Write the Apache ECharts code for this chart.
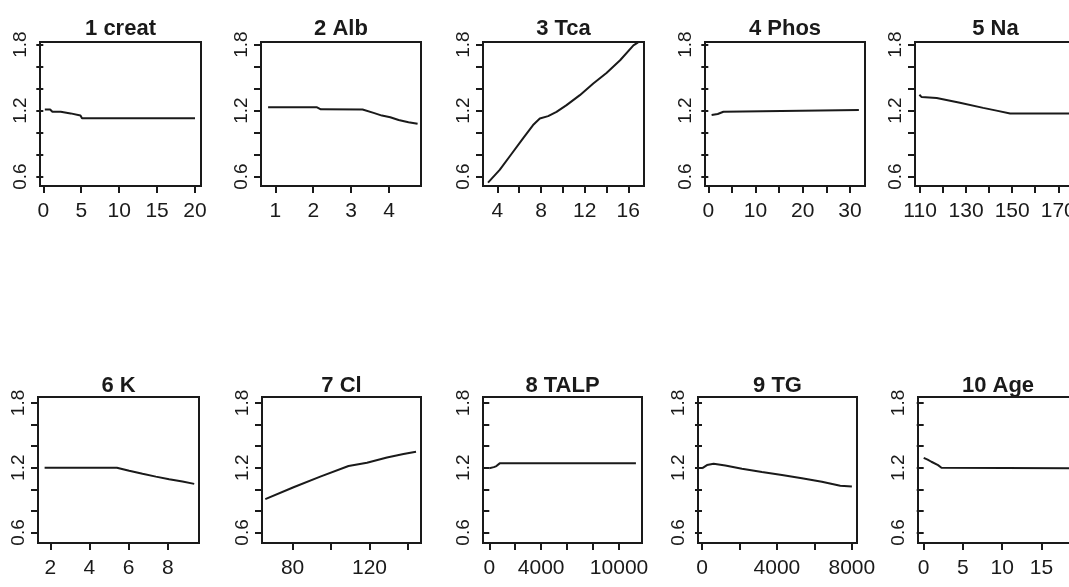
<!DOCTYPE html>
<html><head><meta charset="utf-8">
<script src="https://cdn.jsdelivr.net/npm/echarts@6/dist/echarts.min.js"></script>
<style>html,body{margin:0;padding:0;background:#fff}#c{width:1069px;height:587px}</style>
</head><body><div id="c"></div>
<script>
// ---- data ----
const titles = ['1 creat','2 Alb','3 Tca','4 Phos','5 Na','6 K','7 Cl','8 TALP','9 TG','10 Age'];

const creatX = [0.2, 0.9, 1.2, 2.3, 2.5, 3.6, 3.8, 4.9, 5.1, 20.0];
const creatY = [1.21, 1.21, 1.19, 1.19, 1.175, 1.175, 1.16, 1.155, 1.13, 1.13];
const albX = [0.81, 2.1, 2.2, 3.3, 3.59, 3.81, 4.03, 4.25, 4.51, 4.75];
const albY = [1.23, 1.23, 1.212, 1.21, 1.18, 1.155, 1.14, 1.115, 1.095, 1.08];
const tcaX = [3.14, 4.21, 5.29, 6.35, 7.27, 7.89, 8.65, 9.42, 10.34, 11.56, 12.79, 14.0, 15.25, 16.47, 16.9];
const tcaY = [0.546, 0.661, 0.806, 0.948, 1.069, 1.129, 1.15, 1.189, 1.25, 1.341, 1.447, 1.543, 1.658, 1.794, 1.82];
const phosX = [0.7, 2.0, 2.3, 3.2, 3.5, 31.9];
const phosY = [1.16, 1.17, 1.185, 1.19, 1.205, 1.205];
const naX = [109.7, 110.7, 117.2, 127.3, 137.4, 143.2, 149.1, 176];
const naY = [1.345, 1.323, 1.314, 1.271, 1.225, 1.2, 1.175, 1.175];
const kX = [1.71, 5.4, 6.03, 6.71, 7.39, 8.07, 8.75, 9.35];
const kY = [1.2, 1.2, 1.171, 1.143, 1.117, 1.093, 1.072, 1.05];
const clX = [65.8, 80.5, 94.4, 109.1, 118.7, 129.1, 137.7, 144.2];
const clY = [0.908, 1.019, 1.117, 1.215, 1.246, 1.295, 1.326, 1.348];
const talpX = [0, 350, 550, 800, 11300];
const talpY = [1.195, 1.205, 1.215, 1.24, 1.24];
const tgX = [0, 267, 622, 1244, 2133, 3200, 4267, 5333, 6400, 7380, 8000];
const tgY = [1.194, 1.224, 1.236, 1.221, 1.191, 1.16, 1.133, 1.103, 1.069, 1.033, 1.025];
const ageX = [0, 0.5, 0.98, 1.83, 2.26, 18.7];
const ageY = [1.291, 1.275, 1.255, 1.224, 1.2, 1.195];

const seriesX = [creatX, albX, tcaX, phosX, naX, kX, clX, talpX, tgX, ageX];
const seriesY = [creatY, albY, tcaY, phosY, naY, kY, clY, talpY, tgY, ageY];

const xLimits = [[-0.435,20.79],[0.623,4.84],[2.68,17.44],[-0.70,33.2],[107.8,177.7],
                 [1.373,9.594],[64.09,146.8],[-485,11769],[-213,8274],[-0.726,19.66]];
const xTicks = [[0,5,10,15,20],[1,2,3,4],[4,6,8,10,12,14,16],[0,5,10,15,20,25,30],
                [110,120,130,140,150,160,170],[2,4,6,8],[80,100,120,140],
                [0,2000,4000,6000,8000,10000],[0,2000,4000,6000,8000],[0,5,10,15]];
const xLabels = [[0,5,10,15,20],[1,2,3,4],[4,8,12,16],[0,10,20,30],[110,130,150,170],
                 [2,4,6,8],[80,120],[0,4000,10000],[0,4000,8000],[0,5,10,15]];
const yLimitsRow = [[0.515,1.824],[0.502,1.855]];
const yTicks = [0.6,0.8,1.0,1.2,1.4,1.6,1.8];
const yLabels = [0.6,1.2,1.8];

// ---- layout ----
const boxLeft  = [40,261,483,705,915, 38,262,483,698,918];
const boxWidth = [161,160,161,160,161, 161,159,159,159,160];
const rowTop = [42,397], rowHeight = [144,146], titleTop = [18,375];

const INK = '#1a1a1a';
const grids = [], xAxes = [], yAxes = [], series = [], titleOpts = [];
for (let i = 0; i < 10; i++) {
  const r = i < 5 ? 0 : 1;
  grids.push({left: boxLeft[i], top: rowTop[r], width: boxWidth[i], height: rowHeight[r],
    show: true, borderColor: INK, borderWidth: 2, backgroundColor: 'transparent',
    containLabel: false, outerBoundsMode: 'none'});
  xAxes.push({type: 'value', gridIndex: i, min: xLimits[i][0], max: xLimits[i][1],
    axisLine: {show: false}, splitLine: {show: false},
    axisTick: {show: true, length: 7, lineStyle: {color: INK, width: 2}, customValues: xTicks[i]},
    axisLabel: {customValues: xLabels[i], formatter: v => String(v), color: INK,
      fontFamily: '"Liberation Sans",Arial,sans-serif',
      fontSize: 21, lineHeight: 21, margin: 15}});
  yAxes.push({type: 'value', gridIndex: i, min: yLimitsRow[r][0], max: yLimitsRow[r][1],
    axisLine: {show: false}, splitLine: {show: false},
    axisTick: {show: true, length: 7, lineStyle: {color: INK, width: 2}, customValues: yTicks},
    axisLabel: {customValues: yLabels, formatter: v => v.toFixed(1), rotate: 90, color: INK,
      fontFamily: '"Liberation Sans",Arial,sans-serif', fontSize: 19, lineHeight: 19, margin: 9.5}});
  series.push({type: 'line', xAxisIndex: i, yAxisIndex: i, symbol: 'none', smooth: false,
    lineStyle: {color: INK, width: 2}, clip: true,
    data: seriesX[i].map((x, j) => [x, seriesY[i][j]])});
  titleOpts.push({text: titles[i], left: boxLeft[i] + boxWidth[i] / 2, top: titleTop[r],
    textAlign: 'center', padding: 0,
    textStyle: {fontFamily: '"Liberation Sans",Arial,sans-serif', fontWeight: 'bold',
      fontSize: 22, lineHeight: 22, color: INK}});
}

const chart = echarts.init(document.getElementById('c'), null, {renderer: 'canvas'});
chart.setOption({animation: false, backgroundColor: '#fff', title: titleOpts,
  grid: grids, xAxis: xAxes, yAxis: yAxes, series: series});
</script>
</body></html>
